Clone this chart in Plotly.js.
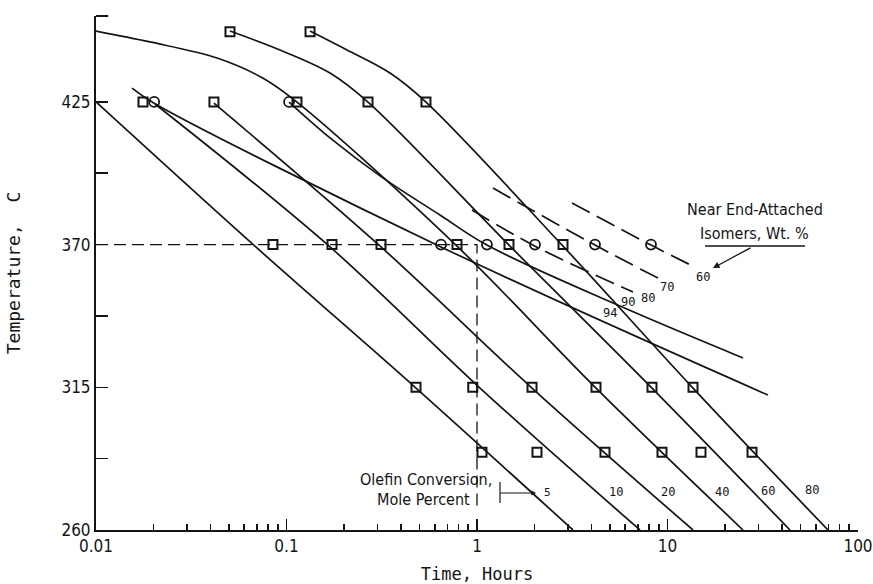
<!DOCTYPE html>
<html>
<head>
<meta charset="utf-8">
<script src="https://cdn.plot.ly/plotly-3.0.1.min.js"></script>
<style>html,body{margin:0;padding:0;background:#fff;}#chart{width:873px;height:584px;}</style>
</head>
<body>
<div id="chart"></div>
<script>
// ---- Olefin conversion curves (time in hours, temperature in C) ----
const conv5_t  = [0.01, 0.0683, 0.4784, 3.19];
const conv5_T  = [425, 369.4, 314.7, 260];
const conv10_t = [0.0204, 0.1692, 1.037, 7.17];
const conv10_T = [424.2, 369.1, 314.7, 260];
const conv20_t = [0.0416, 0.3134, 1.944, 13.61];
const conv20_T = [424.5, 369.1, 314.7, 260];
const conv40_t = [0.01, 0.0192, 0.0432, 0.075, 0.1135, 0.7852, 4.214, 24.9];
const conv40_T = [452.3, 448.1, 441.9, 434.2, 424.9, 369.4, 314.7, 260];
const conv60_t = [0.0505, 0.0924, 0.1692, 0.2678, 1.472, 8.29, 43.95];
const conv60_T = [452.3, 445.0, 436.1, 424.9, 369.8, 314.7, 260];
const conv80_t = [0.1329, 0.2078, 0.3494, 0.5397, 2.828, 13.61, 69.6];
const conv80_T = [452.3, 445.0, 436.1, 424.9, 369.4, 314.7, 260];

// ---- Near end-attached isomer curves ----
const iso94_t = [0.01545, 0.0202, 0.647, 33.7];
const iso94_T = [430.3, 424.5, 369.1, 312.0];
const iso90_t = [0.1031, 0.1692, 0.3096, 0.6393, 1.128, 5.632, 24.9];
const iso90_T = [424.9, 411.1, 396.5, 381.4, 369.8, 346.3, 326.3];
const iso80_t = [0.9415, 2.016, 6.59];
const iso80_T = [383.3, 369.4, 351.7];
const iso70_t = [1.213, 4.163, 8.915];
const iso70_T = [391.8, 369.8, 357.1];
const iso60_t = [3.153, 8.19, 13.94];
const iso60_T = [386.0, 369.8, 361.3];

// ---- Data points ----
const circ_t = [0.0202, 0.1031, 0.647, 1.128, 2.016, 4.163, 8.19];
const circ_T = [425, 425, 370, 370, 370, 370, 370];
const sq452_t = [0.0505, 0.1329];
const sq425_t = [0.01765, 0.0416, 0.1135, 0.2678, 0.5397];
const sq370_t = [0.0849, 0.1733, 0.3134, 0.7852, 1.472, 2.828];
const sq315_t = [0.4784, 0.95, 1.944, 4.214, 8.29, 13.61];
const sq290_t = [1.062, 2.065, 4.697, 9.356, 14.99, 27.77];
const sqTemps = [452, 425, 370, 315, 290];

// ---- Reference dashed guide (370 C, 1 hour) ----
const ref_t = [0.01, 1, 1];
const ref_T = [370, 370, 268];

// ---- Ticks ----
const xDecades = [0.01, 0.1, 1, 10, 100];
const xDecadeText = ['0.01', '0.1', '1', '10', '100'];
const xDigits = [1, 2, 3, 4, 5, 6, 7, 8, 9];
const yTickVals = [260, 315, 370, 425];
const yMinorVals = [287.5, 342.5, 397.5];

// all log-cycle ticks; labels only on decades
const xAllVals = [];
const xAllText = [];
xDecades.forEach((d, i) => {
  xDigits.forEach(k => {
    if (i === xDecades.length - 1 && k > 1) return;
    xAllVals.push(+(d * k).toPrecision(3));
    xAllText.push(k === 1 ? xDecadeText[i] : '');
  });
});

const INK = '#141414';
const NARROW = "'Liberation Sans Narrow', 'DejaVu Sans Condensed', 'Arial Narrow', sans-serif";
const MONO = "'DejaVu Sans Mono', 'Liberation Mono', monospace";

function curve(t, T, dash) {
  return {x: t, y: T, mode: 'lines', type: 'scatter', hoverinfo: 'skip', showlegend: false,
    line: {color: INK, width: 1.7, shape: 'spline', smoothing: 1, dash: dash || 'solid'}};
}
function squares(t, T) {
  return {x: t, y: t.map(() => T), mode: 'markers', type: 'scatter', hoverinfo: 'skip', showlegend: false,
    cliponaxis: false,
    marker: {symbol: 'square-open', size: 9, color: INK, line: {width: 2, color: INK}}};
}

const traces = [
  curve(conv5_t, conv5_T), curve(conv10_t, conv10_T), curve(conv20_t, conv20_T),
  curve(conv40_t, conv40_T), curve(conv60_t, conv60_T), curve(conv80_t, conv80_T),
  curve(iso94_t, iso94_T), curve(iso90_t, iso90_T),
  curve(iso80_t, iso80_T, '20px,8px'), curve(iso70_t, iso70_T, '20px,8px'), curve(iso60_t, iso60_T, '20px,8px'),
  {x: ref_t, y: ref_T, mode: 'lines', type: 'scatter', hoverinfo: 'skip', showlegend: false,
    line: {color: INK, width: 1.3, dash: '12px,6px'}},
  squares(sq452_t, sqTemps[0]), squares(sq425_t, sqTemps[1]), squares(sq370_t, sqTemps[2]),
  squares(sq315_t, sqTemps[3]), squares(sq290_t, sqTemps[4]),
  {x: circ_t, y: circ_T, mode: 'markers', type: 'scatter', hoverinfo: 'skip', showlegend: false, cliponaxis: false,
    marker: {symbol: 'circle-open', size: 10, color: INK, line: {width: 1.8, color: INK}}},
  // invisible anchor so the decade-tick overlay axis is drawn
  {x: [xDecades[0]], y: [yTickVals[0]], xaxis: 'x2', yaxis: 'y', mode: 'markers', type: 'scatter',
    hoverinfo: 'skip', showlegend: false, marker: {opacity: 0, size: 1}}
];

function lab(text, x, y, size, fam) {
  return {text: text, x: x, y: y, xref: 'paper', yref: 'paper', showarrow: false,
    xanchor: 'center', yanchor: 'middle', font: {family: fam || MONO, size: size || 12, color: INK}};
}

const annotations = [
  lab('Near End-Attached', 0.8648, 0.6226, 16, NARROW),
  lab('Isomers, Wt. %', 0.8648, 0.5778, 16, NARROW),
  {text: '', x: 0.8097, y: 0.5097, xref: 'paper', yref: 'paper', showarrow: true,
    ax: 39, ay: -21, arrowhead: 2, arrowsize: 1, arrowwidth: 1.3, arrowcolor: INK},
  lab('60', 0.7966, 0.4922), lab('70', 0.7493, 0.4728), lab('80', 0.7244, 0.4514),
  lab('90', 0.6982, 0.4436), lab('94', 0.6745, 0.4222),
  lab('10', 0.6824, 0.0739), lab('20', 0.7507, 0.0739), lab('40', 0.8215, 0.0739),
  lab('60', 0.8819, 0.0759), lab('80', 0.9396, 0.0778),
  lab('5', 0.5919, 0.072, 11),
  {text: '', x: 0.5775, y: 0.072, xref: 'paper', yref: 'paper', showarrow: true,
    ax: -37, ay: 0, arrowhead: 2, arrowsize: 0.8, arrowwidth: 1.2, arrowcolor: INK},
  lab('Olefin Conversion,', 0.4331, 0.0973, 16, NARROW),
  lab('Mole Percent', 0.4298, 0.0584, 16, NARROW)
];

const shapes = [
  {type: 'line', xref: 'paper', yref: 'paper', x0: 0.7992, x1: 0.9304, y0: 0.5525, y1: 0.5525,
    line: {color: INK, width: 1.5}},
  {type: 'line', xref: 'paper', yref: 'paper', x0: 0, x1: 0.016, y0: 1, y1: 1,
    line: {color: INK, width: 2}},
  {type: 'line', xref: 'paper', yref: 'paper', x0: 0.5302, x1: 0.5302, y0: 0.0525, y1: 0.0934,
    line: {color: INK, width: 1.2}}
];

const layout = {
  width: 873, height: 584,
  margin: {l: 96, r: 15, t: 16, b: 54, pad: 0},
  paper_bgcolor: '#ffffff', plot_bgcolor: '#ffffff',
  showlegend: false,
  xaxis: {
    type: 'log', range: [-2, 2], showgrid: false, zeroline: false,
    showline: true, linecolor: INK, linewidth: 2,
    ticks: 'inside', ticklen: 6, tickwidth: 1.6, tickcolor: INK,
    tickmode: 'array', tickvals: xAllVals, ticktext: xAllText,
    tickfont: {family: NARROW, size: 17, color: INK},
    title: {text: 'Time, Hours', font: {family: MONO, size: 17, color: INK}, standoff: 13}
  },
  xaxis2: {
    type: 'log', range: [-2, 2], overlaying: 'x', anchor: 'y', side: 'bottom',
    showgrid: false, zeroline: false, showline: false,
    ticks: 'inside', ticklen: 11, tickwidth: 1.8, tickcolor: INK,
    tickmode: 'array', tickvals: xDecades, showticklabels: false
  },
  yaxis: {
    range: [260, 458.1], showgrid: false, zeroline: false,
    showline: true, linecolor: INK, linewidth: 2,
    ticks: 'inside', ticklen: 12, tickwidth: 1.5, tickcolor: INK,
    tickmode: 'array', tickvals: yTickVals,
    tickfont: {family: NARROW, size: 17, color: INK},
    minor: {tickmode: 'array', tickvals: yMinorVals, ticks: 'inside', ticklen: 12, tickwidth: 1.5, tickcolor: INK, showgrid: false},
    title: {text: 'Temperature,  C', font: {family: MONO, size: 18, color: INK}, standoff: 36}
  },
  annotations: annotations,
  shapes: shapes
};

Plotly.newPlot('chart', traces, layout, {staticPlot: true, displayModeBar: false});
</script>
</body>
</html>
